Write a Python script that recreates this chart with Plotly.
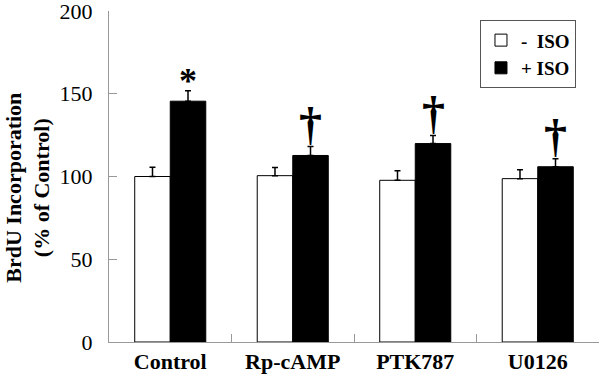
import plotly.graph_objects as go

categories = ["Control", "Rp-cAMP", "PTK787", "U0126"]
minus_iso = [100.0, 100.5, 97.7, 98.7]
minus_err = [5.6, 5.0, 5.8, 5.4]
plus_iso = [145.5, 112.7, 119.9, 105.9]
plus_err = [6.3, 5.4, 4.8, 4.8]
marks = ["*", "†", "†", "†"]

FONT = "Liberation Serif"

fig = go.Figure()
fig.add_trace(go.Bar(
    x=categories, y=minus_iso, name="<b>-  ISO</b>",
    marker=dict(color="white", line=dict(color="black", width=1)),
    error_y=dict(type="data", array=minus_err, arrayminus=[0]*4, symmetric=False,
                 color="black", thickness=1.5, width=3),
))
fig.add_trace(go.Bar(
    x=categories, y=plus_iso, name="<b>+ ISO</b>",
    marker=dict(color="black", line=dict(color="black", width=1)),
    error_y=dict(type="data", array=plus_err, arrayminus=[0]*4, symmetric=False,
                 color="black", thickness=1.5, width=3),
))

for c, v, e, m in zip(categories, plus_iso, plus_err, marks):
    if m == "*":
        fig.add_annotation(x=c, y=v + e, text="<b>*</b>", showarrow=False,
                           xshift=18, yshift=-12, yanchor="bottom",
                           font=dict(family=FONT, size=36, color="black"))
    else:
        fig.add_annotation(x=c, y=v + e, text="<b>†</b>", showarrow=False,
                           xshift=18, yshift=-4, yanchor="bottom",
                           font=dict(family=FONT, size=46, color="black"))

fig.add_annotation(xref="paper", yref="paper", x=-0.166, y=0.465,
                   text="<b>BrdU Incorporation<br>(% of Control)</b>",
                   textangle=-90, showarrow=False, xanchor="center", yanchor="middle",
                   font=dict(family=FONT, size=22, color="black"))

fig.update_layout(
    width=600, height=374,
    margin=dict(l=109, r=1, t=11, b=32, autoexpand=False),
    paper_bgcolor="white", plot_bgcolor="white",
    barmode="group", bargap=0.42, bargroupgap=0,
    showlegend=True,
    legend=dict(x=0.953, y=0.972, xanchor="right", yanchor="top",
                bordercolor="#555", borderwidth=1, bgcolor="white",
                font=dict(family=FONT, size=19, color="black"),
                itemwidth=30, tracegroupgap=0),
    font=dict(family=FONT, color="black"),
    xaxis=dict(type="category", tickson="boundaries", ticks="inside", ticklen=8,
               tickcolor="#999", showline=True, linecolor="#999", linewidth=1,
               tickfont=dict(family=FONT, size=22, color="black"),
               tickprefix="<b>", ticksuffix="</b>", showgrid=False,
               automargin=False, ticklabeloverflow="allow"),
    yaxis=dict(range=[0, 200], tickvals=[0, 50, 100, 150, 200], ticks="inside",
               ticklen=8, tickcolor="#999", showline=True, linecolor="#999",
               linewidth=1, showgrid=False, zeroline=False,
               tickfont=dict(family=FONT, size=22, color="black"),
               tickprefix="<b>", ticksuffix="</b>", ticklabelstandoff=11,
               automargin=False, ticklabeloverflow="allow"),
)

fig.write_html("out.html", config={"displayModeBar": False},
               post_script="document.body.style.margin='0px';")
